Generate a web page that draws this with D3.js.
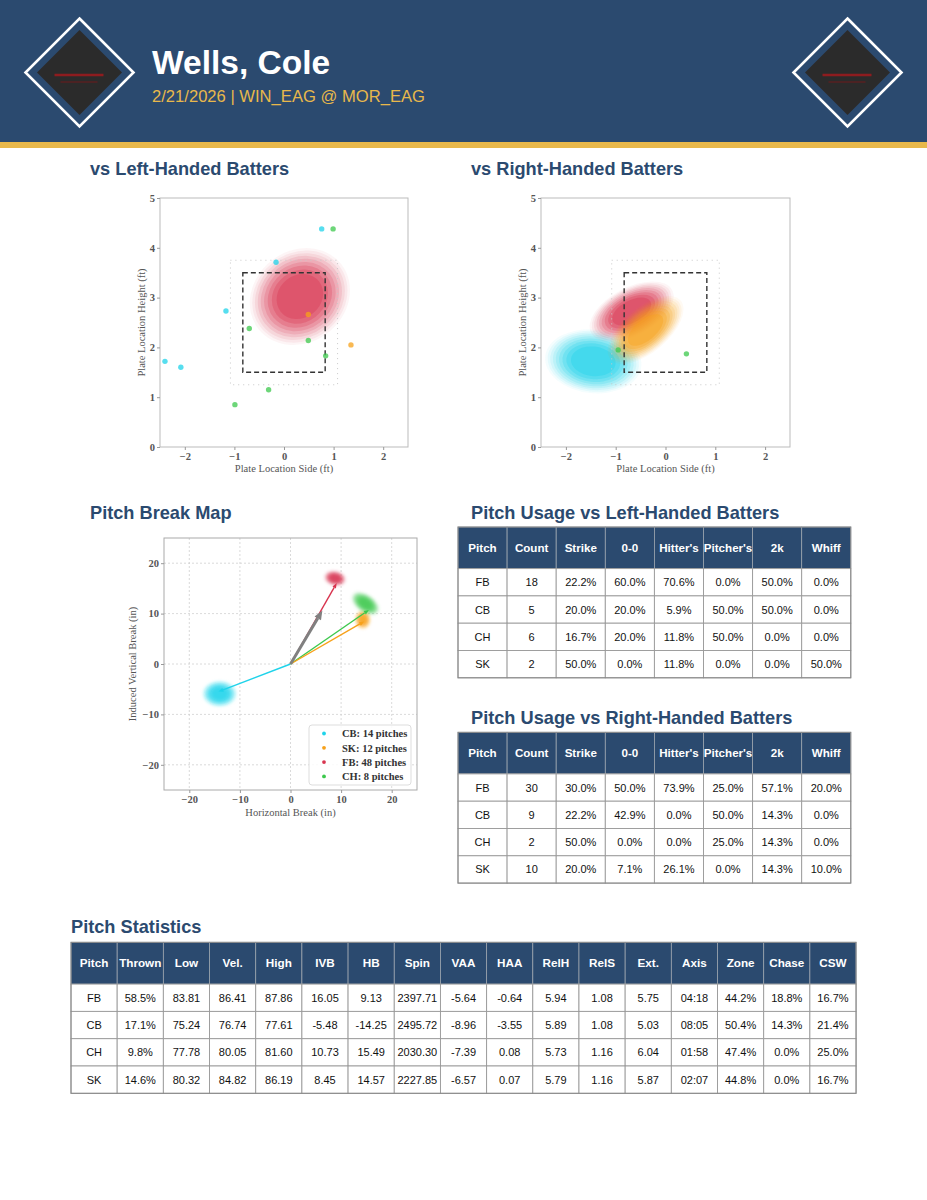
<!DOCTYPE html>
<html><head><meta charset="utf-8">
<script src="https://cdn.jsdelivr.net/npm/d3@7"></script>
<style>body{margin:0;background:#fff}svg{display:block}</style>
</head><body>
<svg id="c" width="927" height="1200"></svg>
<script>
// ---------------- DATA ----------------
const pitcherName = "Wells, Cole";
const gameInfo = "2/21/2026 | WIN_EAG @ MOR_EAG";
const pitchColors = {FB:"#d8344f", CB:"#1fd3ea", CH:"#3cc84c", SK:"#f7a11a"};

// Plate location scatter points (pitch types with few pitches)
const lhbPoints = [
  {type:"CB",x:0.76,y:4.38},{type:"CH",x:0.99,y:4.38},{type:"CB",x:-0.16,y:3.71},
  {type:"CB",x:-1.17,y:2.73},{type:"CH",x:-0.70,y:2.38},{type:"SK",x:0.49,y:2.66},
  {type:"CH",x:0.49,y:2.14},{type:"SK",x:1.35,y:2.05},{type:"CH",x:0.84,y:1.83},
  {type:"CB",x:-2.40,y:1.72},{type:"CB",x:-2.08,y:1.60},{type:"CH",x:-0.31,y:1.15},
  {type:"CH",x:-0.99,y:0.85}
];
const rhbPoints = [
  {type:"CH",x:0.42,y:1.87},{type:"CH",x:-0.95,y:1.95}
];
// Plate location density regions (center, spread in ft, tilt in degrees)
const lhbDensity = [
  {type:"FB",cx:0.32,cy:3.02,rx:1.06,ry:0.92,angle:38}
];
const rhbDensity = [
  {type:"CB",cx:-1.45,cy:1.72,rx:0.97,ry:0.64,angle:-6},
  {type:"FB",cx:-0.68,cy:2.72,rx:0.92,ry:0.48,angle:28},
  {type:"SK",cx:-0.40,cy:2.35,rx:0.92,ry:0.45,angle:40}
];
const strikeZone = {left:-0.83,right:0.83,bottom:1.5,top:3.5};
const shadowZone = {left:-1.08,right:1.08,bottom:1.25,top:3.75};
const plateXTicks = [-2,-1,0,1,2];
const plateYTicks = [0,1,2,3,4,5];

// Pitch break clouds (center and spread in inches)
const breakClouds = [
  {type:"CB",cx:-14.0,cy:-5.9,rx:3.4,ry:2.6,angle:0},
  {type:"SK",cx:14.3,cy:8.8,rx:1.6,ry:1.9,angle:0},
  {type:"CH",cx:14.8,cy:12.0,rx:3.1,ry:1.8,angle:-35},
  {type:"FB",cx:8.8,cy:17.0,rx:2.2,ry:1.5,angle:-12}
];
const armArrow = {x:6.3,y:10.6};
const legendTypes = ["CB","SK","FB","CH"];
const legendCounts = [14,12,48,8];
const breakTicks = [-20,-10,0,10,20];

// Usage tables
const usageHeaders = ["Pitch","Count","Strike","0-0","Hitter's","Pitcher's","2k","Whiff"];
const lhbUsage = [
  ["FB",18,22.2,60.0,70.6,0.0,50.0,0.0],
  ["CB",5,20.0,20.0,5.9,50.0,50.0,0.0],
  ["CH",6,16.7,20.0,11.8,50.0,0.0,0.0],
  ["SK",2,50.0,0.0,11.8,0.0,0.0,50.0]
];
const rhbUsage = [
  ["FB",30,30.0,50.0,73.9,25.0,57.1,20.0],
  ["CB",9,22.2,42.9,0.0,50.0,14.3,0.0],
  ["CH",2,50.0,0.0,0.0,25.0,14.3,0.0],
  ["SK",10,20.0,7.1,26.1,0.0,14.3,10.0]
];

// Pitch statistics
const statsHeaders = ["Pitch","Thrown","Low","Vel.","High","IVB","HB","Spin","VAA","HAA","RelH","RelS","Ext.","Axis","Zone","Chase","CSW"];
const statsRows = [
  ["FB","58.5%","83.81","86.41","87.86","16.05","9.13","2397.71","-5.64","-0.64","5.94","1.08","5.75","04:18","44.2%","18.8%","16.7%"],
  ["CB","17.1%","75.24","76.74","77.61","-5.48","-14.25","2495.72","-8.96","-3.55","5.89","1.08","5.03","08:05","50.4%","14.3%","21.4%"],
  ["CH","9.8%","77.78","80.05","81.60","10.73","15.49","2030.30","-7.39","0.08","5.73","1.16","6.04","01:58","47.4%","0.0%","25.0%"],
  ["SK","14.6%","80.32","84.82","86.19","8.45","14.57","2227.85","-6.57","0.07","5.79","1.16","5.87","02:07","44.8%","0.0%","16.7%"]
];

// ---------------- DRAW ----------------
const W = 927, H = 1200;
const navy = "#2b4a6f", gold = "#e8b84b";
const sans = "'Liberation Sans', Arial, Helvetica, sans-serif";
const serif = "'Liberation Serif', 'DejaVu Serif', serif";
const svg = d3.select("#c");
const defs = svg.append("defs");
defs.append("filter").attr("id","blur").attr("x","-50%").attr("y","-50%").attr("width","200%").attr("height","200%")
  .append("feGaussianBlur").attr("stdDeviation",1.4);

// Header
svg.append("rect").attr("x",0).attr("y",0).attr("width",W).attr("height",142).attr("fill",navy);
svg.append("rect").attr("x",0).attr("y",142).attr("width",W).attr("height",6).attr("fill",gold);

function logo(cx, cy){
  const g = svg.append("g").attr("transform",`translate(${cx},${cy})`);
  const d = r => `M0,${-r}L${r},0L0,${r}L${-r},0Z`;
  g.append("path").attr("d",d(54)).attr("fill","none").attr("stroke","#fff").attr("stroke-width",2.6);
  g.append("path").attr("d",d(42.5)).attr("fill","#2b2b2b");
  g.append("line").attr("x1",-25).attr("x2",24).attr("y1",2.5).attr("y2",2.5).attr("stroke","#8e1c1f").attr("stroke-width",2.6);
  g.append("line").attr("x1",-19).attr("x2",18).attr("y1",9.5).attr("y2",9.5).attr("stroke","#6f1a1c").attr("stroke-width",1);
}
logo(79.5,72.5);
logo(847.5,72.5);

svg.append("text").attr("x",152).attr("y",73.5).text(pitcherName)
  .attr("font-family",sans).attr("font-weight","bold").attr("font-size",33.5).attr("fill","#fff");
svg.append("text").attr("x",152).attr("y",101.5).text(gameInfo)
  .attr("font-family",sans).attr("font-size",16.6).attr("fill",gold);

function sectionTitle(x,y,t){
  svg.append("text").attr("x",x).attr("y",y).text(t)
    .attr("font-family",sans).attr("font-weight","bold").attr("font-size",18.2).attr("fill",navy);
}
sectionTitle(90,174.5,"vs Left-Handed Batters");
sectionTitle(471,174.5,"vs Right-Handed Batters");
sectionTitle(90,518.5,"Pitch Break Map");
sectionTitle(471,518.5,"Pitch Usage vs Left-Handed Batters");
sectionTitle(471,723.5,"Pitch Usage vs Right-Handed Batters");
sectionTitle(71,933,"Pitch Statistics");

const intFmt = d3.format("d");
function styleAxis(g){
  g.select(".domain").remove();
  g.selectAll(".tick line").attr("stroke","#999");
  g.selectAll(".tick text").attr("font-family",serif).attr("font-weight","bold")
    .attr("font-size",10.5).attr("fill","#555");
}

const levelOpacity = [0.05,0.07,0.09,0.12,0.15,0.19,0.24,0.29,0.36];
function densityGroup(g, xs, ys, dens, ops, blur){
  const kx = Math.abs(xs(1)-xs(0)), ky = Math.abs(ys(1)-ys(0));
  const n = ops.length;
  dens.forEach(dn => {
    const gg = g.append("g").attr("transform",`translate(${xs(dn.cx)},${ys(dn.cy)}) rotate(${-dn.angle})`);
    if (blur) gg.attr("filter","url(#blur)");
    ops.forEach((o,k) => {
      const s = Math.sqrt(1 - k/(n+1.2));
      gg.append("ellipse").attr("rx",dn.rx*kx*s).attr("ry",dn.ry*ky*s)
        .attr("fill",pitchColors[dn.type]).attr("fill-opacity",o);
    });
  });
}

function platePlot(x0, y0, w, h, points, dens){
  const xs = d3.scaleLinear().domain([-2.5,2.5]).range([x0,x0+w]);
  const ys = d3.scaleLinear().domain([0,5]).range([y0+h,y0]);
  const g = svg.append("g");
  densityGroup(g, xs, ys, dens, levelOpacity, false);
  // shadow zone (dotted)
  g.append("rect").attr("x",xs(shadowZone.left)).attr("y",ys(shadowZone.top))
    .attr("width",xs(shadowZone.right)-xs(shadowZone.left)).attr("height",ys(shadowZone.bottom)-ys(shadowZone.top))
    .attr("fill","none").attr("stroke","#c8c8c8").attr("stroke-width",1).attr("stroke-dasharray","1,4");
  // strike zone
  g.append("rect").attr("x",xs(strikeZone.left)).attr("y",ys(strikeZone.top))
    .attr("width",xs(strikeZone.right)-xs(strikeZone.left)).attr("height",ys(strikeZone.bottom)-ys(strikeZone.top))
    .attr("fill","none").attr("stroke","#333").attr("stroke-width",1.4).attr("stroke-dasharray","5,3");
  g.selectAll("circle.pt").data(points).join("circle").attr("class","pt")
    .attr("cx",d=>xs(d.x)).attr("cy",d=>ys(d.y)).attr("r",2.7)
    .attr("fill",d=>pitchColors[d.type]).attr("fill-opacity",0.75);
  g.append("rect").attr("x",x0).attr("y",y0).attr("width",w).attr("height",h)
    .attr("fill","none").attr("stroke","#bbb").attr("stroke-width",1);
  const ax = g.append("g").attr("transform",`translate(0,${y0+h})`)
    .call(d3.axisBottom(xs).tickValues(plateXTicks).tickFormat(intFmt).tickSize(3).tickPadding(3));
  styleAxis(ax);
  const ay = g.append("g").attr("transform",`translate(${x0},0)`)
    .call(d3.axisLeft(ys).tickValues(plateYTicks).tickFormat(intFmt).tickSize(3).tickPadding(2));
  styleAxis(ay);
  g.append("text").attr("x",x0+w/2).attr("y",y0+h+25).attr("text-anchor","middle")
    .text("Plate Location Side (ft)").attr("font-family",serif).attr("font-size",10.5).attr("fill","#555");
  g.append("text").attr("transform",`translate(${x0-15},${y0+h/2}) rotate(-90)`).attr("text-anchor","middle")
    .text("Plate Location Height (ft)").attr("font-family",serif).attr("font-size",10.5).attr("fill","#555");
}
platePlot(160,198,248,249,lhbPoints,lhbDensity);
platePlot(541,198,249,249,rhbPoints,rhbDensity);

// Pitch break map
(function(){
  const x0=164, y0=538, w=253, h=252;
  const xs = d3.scaleLinear().domain([-25,25]).range([x0,x0+w]);
  const ys = d3.scaleLinear().domain([-25,25]).range([y0+h,y0]);
  const g = svg.append("g");
  // grid
  g.selectAll("line.gx").data(breakTicks).join("line").attr("class","gx")
    .attr("x1",d=>xs(d)).attr("x2",d=>xs(d)).attr("y1",y0).attr("y2",y0+h)
    .attr("stroke","#d0d0d0").attr("stroke-width",0.8).attr("stroke-dasharray","2,2");
  g.selectAll("line.gy").data(breakTicks).join("line").attr("class","gy")
    .attr("y1",d=>ys(d)).attr("y2",d=>ys(d)).attr("x1",x0).attr("x2",x0+w)
    .attr("stroke","#d0d0d0").attr("stroke-width",0.8).attr("stroke-dasharray","2,2");
  densityGroup(g, xs, ys, breakClouds, [0.08,0.1,0.12,0.14,0.16,0.18,0.2,0.22,0.25,0.28,0.3], true);
  // arrows to mean break
  function arrow(x, y, color, width, hl, hw){
    const X0=xs(0), Y0=ys(0), X1=xs(x), Y1=ys(y);
    const ang = Math.atan2(Y1-Y0, X1-X0);
    const bx = X1 - hl*Math.cos(ang), by = Y1 - hl*Math.sin(ang);
    g.append("line").attr("x1",X0).attr("y1",Y0).attr("x2",bx).attr("y2",by)
      .attr("stroke",color).attr("stroke-width",width);
    const px = -Math.sin(ang)*hw/2, py = Math.cos(ang)*hw/2;
    g.append("path").attr("d",`M${X1},${Y1}L${bx+px},${by+py}L${bx-px},${by-py}Z`).attr("fill",color);
  }
  statsRows.forEach(r => {
    arrow(parseFloat(r[6]), parseFloat(r[5]), pitchColors[r[0]], 1.4, 5, 4);
  });
  arrow(armArrow.x, armArrow.y, "#808080", 3, 9, 7.5);
  g.append("rect").attr("x",x0).attr("y",y0).attr("width",w).attr("height",h)
    .attr("fill","none").attr("stroke","#aaa").attr("stroke-width",1);
  const ax = g.append("g").attr("transform",`translate(0,${y0+h})`)
    .call(d3.axisBottom(xs).tickValues(breakTicks).tickFormat(intFmt).tickSize(3).tickPadding(3));
  styleAxis(ax);
  const ay = g.append("g").attr("transform",`translate(${x0},0)`)
    .call(d3.axisLeft(ys).tickValues(breakTicks).tickFormat(intFmt).tickSize(3).tickPadding(2));
  styleAxis(ay);
  g.append("text").attr("x",x0+w/2).attr("y",y0+h+26).attr("text-anchor","middle")
    .text("Horizontal Break (in)").attr("font-family",serif).attr("font-size",10.5).attr("fill","#555");
  g.append("text").attr("transform",`translate(${x0-28},${y0+h/2}) rotate(-90)`).attr("text-anchor","middle")
    .text("Induced Vertical Break (in)").attr("font-family",serif).attr("font-size",10.5).attr("fill","#555");
  // legend
  const lg = g.append("g").attr("transform","translate(309,725)");
  lg.append("rect").attr("width",102).attr("height",60).attr("rx",3)
    .attr("fill","#fff").attr("fill-opacity",0.85).attr("stroke","#ddd");
  legendTypes.forEach((t,i) => {
    lg.append("circle").attr("cx",15).attr("cy",8.5+i*14.3).attr("r",1.9).attr("fill",pitchColors[t]);
    lg.append("text").attr("x",33).attr("y",12.2+i*14.3).text(`${t}: ${legendCounts[i]} pitches`)
      .attr("font-family",serif).attr("font-weight","bold").attr("font-size",10.5).attr("fill","#333");
  });
})();

// Tables
function table(x0, y0, colW, headH, rowH, headers, rows, headSize, bodySize){
  const g = svg.append("g");
  headers.forEach((hd,i) => {
    g.append("rect").attr("x",x0+i*colW).attr("y",y0).attr("width",colW).attr("height",headH)
      .attr("fill",navy).attr("stroke","#9aa3ad").attr("stroke-width",0.8);
    g.append("text").attr("x",x0+i*colW+colW/2).attr("y",y0+headH/2+4.2).attr("text-anchor","middle")
      .text(hd).attr("font-family",sans).attr("font-weight","bold").attr("font-size",headSize).attr("fill","#fff");
  });
  rows.forEach((r,j) => {
    r.forEach((v,i) => {
      const y = y0+headH+j*rowH;
      g.append("rect").attr("x",x0+i*colW).attr("y",y).attr("width",colW).attr("height",rowH)
        .attr("fill","#fff").attr("stroke","#999").attr("stroke-width",0.9);
      g.append("text").attr("x",x0+i*colW+colW/2).attr("y",y+rowH/2+4).attr("text-anchor","middle")
        .text(v).attr("font-family",sans).attr("font-size",bodySize).attr("fill","#111");
    });
  });
  g.append("rect").attr("x",x0).attr("y",y0).attr("width",colW*headers.length).attr("height",headH+rowH*rows.length)
    .attr("fill","none").attr("stroke","#888").attr("stroke-width",1);
}
const fmtUsage = r => r.map((v,i) => i===0 ? v : i===1 ? String(v) : v.toFixed(1)+"%");
table(458,527,49.1,41.6,27.3,usageHeaders,lhbUsage.map(fmtUsage),11.6,11);
table(458,732.3,49.1,41.6,27.3,usageHeaders,rhbUsage.map(fmtUsage),11.6,11);
table(71,942.3,46.18,41.8,27.3,statsHeaders,statsRows,11.7,11);
</script>
</body></html>
